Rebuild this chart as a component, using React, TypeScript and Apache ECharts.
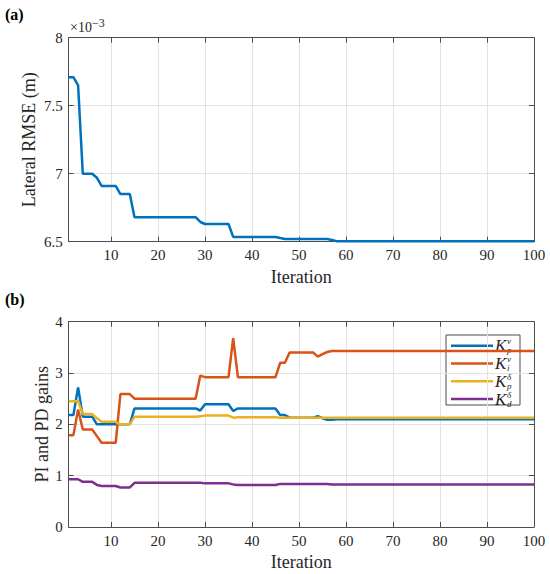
import React, { useEffect, useRef } from "react";
import * as echarts from "echarts";

const iterations = Array.from({ length: 100 }, (_, i) => i + 1);
const xTickValues = [10, 20, 30, 40, 50, 60, 70, 80, 90, 100];

// Lateral RMSE in units of 1e-3 m
const lateralRmse = [
  7.71, 7.71, 7.65, 7.0, 7.0, 7.0, 6.97, 6.91, 6.91, 6.91,
  6.91, 6.85, 6.85, 6.85, 6.68, 6.68, 6.68, 6.68, 6.68, 6.68,
  6.68, 6.68, 6.68, 6.68, 6.68, 6.68, 6.68, 6.68, 6.645, 6.63,
  6.63, 6.63, 6.63, 6.63, 6.63, 6.535, 6.535, 6.535, 6.535, 6.535,
  6.535, 6.535, 6.535, 6.535, 6.535, 6.527, 6.52, 6.52, 6.52, 6.52,
  6.52, 6.52, 6.52, 6.52, 6.52, 6.52, 6.512, 6.504, 6.504, 6.504,
  6.504, 6.504, 6.504, 6.504, 6.504, 6.504, 6.504, 6.504, 6.504, 6.504,
  6.504, 6.504, 6.504, 6.504, 6.504, 6.504, 6.504, 6.504, 6.504, 6.504,
  6.504, 6.504, 6.504, 6.504, 6.504, 6.504, 6.504, 6.504, 6.504, 6.504,
  6.504, 6.504, 6.504, 6.504, 6.504, 6.504, 6.504, 6.504, 6.504, 6.504,
];

const kpV = [
  2.18, 2.18, 2.72, 2.15, 2.15, 2.15, 2.0, 2.0, 2.0, 2.0,
  2.0, 2.0, 2.0, 2.0, 2.31, 2.31, 2.31, 2.31, 2.31, 2.31,
  2.31, 2.31, 2.31, 2.31, 2.31, 2.31, 2.31, 2.31, 2.27, 2.39,
  2.39, 2.39, 2.39, 2.39, 2.39, 2.26, 2.31, 2.31, 2.31, 2.31,
  2.31, 2.31, 2.31, 2.31, 2.31, 2.18, 2.18, 2.13, 2.13, 2.13,
  2.13, 2.13, 2.13, 2.16, 2.12, 2.09, 2.09, 2.1, 2.1, 2.1,
  2.1, 2.1, 2.1, 2.1, 2.1, 2.1, 2.1, 2.1, 2.1, 2.1,
  2.1, 2.1, 2.1, 2.1, 2.1, 2.1, 2.1, 2.1, 2.1, 2.1,
  2.1, 2.1, 2.1, 2.1, 2.1, 2.1, 2.1, 2.1, 2.1, 2.1,
  2.1, 2.1, 2.1, 2.1, 2.1, 2.1, 2.1, 2.1, 2.1, 2.1,
];

const kiV = [
  1.79, 1.79, 2.29, 1.9, 1.9, 1.9, 1.77, 1.64, 1.64, 1.64,
  1.64, 2.59, 2.59, 2.59, 2.5, 2.5, 2.5, 2.5, 2.5, 2.5,
  2.5, 2.5, 2.5, 2.5, 2.5, 2.5, 2.5, 2.5, 2.95, 2.92,
  2.92, 2.92, 2.92, 2.92, 2.92, 3.68, 2.92, 2.92, 2.92, 2.92,
  2.92, 2.92, 2.92, 2.92, 2.92, 3.2, 3.2, 3.4, 3.4, 3.4,
  3.4, 3.4, 3.4, 3.32, 3.37, 3.41, 3.43, 3.43, 3.43, 3.43,
  3.43, 3.43, 3.43, 3.43, 3.43, 3.43, 3.43, 3.43, 3.43, 3.43,
  3.43, 3.43, 3.43, 3.43, 3.43, 3.43, 3.43, 3.43, 3.43, 3.43,
  3.43, 3.43, 3.43, 3.43, 3.43, 3.43, 3.43, 3.43, 3.43, 3.43,
  3.43, 3.43, 3.43, 3.43, 3.43, 3.43, 3.43, 3.43, 3.43, 3.43,
];

const kpDelta = [
  2.45, 2.45, 2.45, 2.2, 2.2, 2.2, 2.12, 2.05, 2.05, 2.05,
  2.05, 2.0, 2.0, 2.0, 2.15, 2.15, 2.15, 2.15, 2.15, 2.15,
  2.15, 2.15, 2.15, 2.15, 2.15, 2.15, 2.15, 2.15, 2.16, 2.17,
  2.17, 2.17, 2.17, 2.17, 2.17, 2.13, 2.14, 2.14, 2.14, 2.14,
  2.14, 2.14, 2.14, 2.14, 2.14, 2.13, 2.13, 2.13, 2.13, 2.13,
  2.13, 2.13, 2.13, 2.13, 2.13, 2.13, 2.13, 2.13, 2.13, 2.13,
  2.13, 2.13, 2.13, 2.13, 2.13, 2.13, 2.13, 2.13, 2.13, 2.13,
  2.13, 2.13, 2.13, 2.13, 2.13, 2.13, 2.13, 2.13, 2.13, 2.13,
  2.13, 2.13, 2.13, 2.13, 2.13, 2.13, 2.13, 2.13, 2.13, 2.13,
  2.13, 2.13, 2.13, 2.13, 2.13, 2.13, 2.13, 2.13, 2.13, 2.13,
];

const kdDelta = [
  0.93, 0.93, 0.93, 0.88, 0.88, 0.88, 0.82, 0.8, 0.8, 0.8,
  0.8, 0.77, 0.77, 0.77, 0.86, 0.86, 0.86, 0.86, 0.86, 0.86,
  0.86, 0.86, 0.86, 0.86, 0.86, 0.86, 0.86, 0.86, 0.86, 0.85,
  0.85, 0.85, 0.85, 0.85, 0.85, 0.83, 0.82, 0.82, 0.82, 0.82,
  0.82, 0.82, 0.82, 0.82, 0.82, 0.84, 0.84, 0.84, 0.84, 0.84,
  0.84, 0.84, 0.84, 0.84, 0.84, 0.84, 0.83, 0.83, 0.83, 0.83,
  0.83, 0.83, 0.83, 0.83, 0.83, 0.83, 0.83, 0.83, 0.83, 0.83,
  0.83, 0.83, 0.83, 0.83, 0.83, 0.83, 0.83, 0.83, 0.83, 0.83,
  0.83, 0.83, 0.83, 0.83, 0.83, 0.83, 0.83, 0.83, 0.83, 0.83,
  0.83, 0.83, 0.83, 0.83, 0.83, 0.83, 0.83, 0.83, 0.83, 0.83,
];

const gainSeries = [
  { name: "Kp_v", data: kpV, color: "#0072BD", sup: "v", sub: "p" },
  { name: "Ki_v", data: kiV, color: "#D95319", sup: "v", sub: "i" },
  { name: "Kp_delta", data: kpDelta, color: "#EDB120", sup: "δ", sub: "p" },
  { name: "Kd_delta", data: kdDelta, color: "#7E2F8E", sup: "δ", sub: "d" },
];

const FONT = "'Liberation Serif', 'DejaVu Serif', serif";
const TEXT = "#262626";
const AXIS = "#4d4d4d";
const GRIDC = "#e3e3e3";

const G0 = { left: 68.7, top: 37.7, width: 465.3, height: 204 };
const G1 = { left: 68.7, top: 321.7, width: 465.3, height: 205.3 };

function xAxes(gridIndex: number) {
  const line = { show: true, onZero: false, lineStyle: { color: AXIS, width: 1 } };
  return [
    {
      gridIndex,
      type: "value",
      min: 1,
      max: 100,
      position: "bottom",
      axisLine: line,
      axisTick: { show: true, inside: true, length: 5, customValues: xTickValues, lineStyle: { color: AXIS } },
      axisLabel: { customValues: xTickValues, color: TEXT, fontSize: 15, fontFamily: FONT, margin: 6 },
      splitLine: { show: true, lineStyle: { color: GRIDC, width: 1 } },
      name: "Iteration",
      nameLocation: "middle",
      nameGap: 26,
      nameMoveOverlap: false,
      nameTextStyle: { color: TEXT, fontSize: 18, fontFamily: FONT },
    },
    {
      gridIndex,
      type: "value",
      min: 1,
      max: 100,
      position: "top",
      axisLine: line,
      axisTick: { show: true, inside: true, length: 5, customValues: xTickValues, lineStyle: { color: AXIS } },
      axisLabel: { show: false },
      splitLine: { show: false },
    },
  ];
}

function yAxes(gridIndex: number, min: number, max: number, interval: number, name: string, nameGap: number) {
  const line = { show: true, onZero: false, lineStyle: { color: AXIS, width: 1 } };
  return [
    {
      gridIndex,
      type: "value",
      min,
      max,
      interval,
      position: "left",
      axisLine: line,
      axisTick: { show: true, inside: true, length: 5, lineStyle: { color: AXIS } },
      axisLabel: { color: TEXT, fontSize: 15, fontFamily: FONT, margin: 6 },
      splitLine: { show: true, lineStyle: { color: GRIDC, width: 1 } },
      name,
      nameLocation: "middle",
      nameGap,
      nameMoveOverlap: false,
      nameTextStyle: { color: TEXT, fontSize: 18, fontFamily: FONT },
    },
    {
      gridIndex,
      type: "value",
      min,
      max,
      interval,
      position: "right",
      axisLine: line,
      axisTick: { show: true, inside: true, length: 5, lineStyle: { color: AXIS } },
      axisLabel: { show: false },
      splitLine: { show: false },
    },
  ];
}

function legendGraphic() {
  const children: any[] = [
    {
      type: "rect",
      shape: { x: 446, y: 335, width: 74, height: 70 },
      style: { fill: "rgba(255,255,255,0.65)", stroke: AXIS, lineWidth: 1 },
    },
  ];
  gainSeries.forEach((s, i) => {
    const y = 345.7 + i * 17.8;
    children.push({
      type: "line",
      shape: { x1: 451, y1: y, x2: 493, y2: y },
      style: { stroke: s.color, lineWidth: 2.5 },
    });
    children.push({
      type: "text",
      x: 495,
      y: y,
      style: { text: "K", fontSize: 17, fontStyle: "italic", fontFamily: FONT, fill: TEXT, align: "left", verticalAlign: "middle" },
    });
    children.push({
      type: "text",
      x: 507,
      y: y - 4.45,
      style: { text: s.sup, fontSize: 9, lineHeight: 9, fontStyle: "italic", fontFamily: FONT, fill: TEXT, align: "left", verticalAlign: "middle" },
    });
    children.push({
      type: "text",
      x: 507,
      y: y + 4.45,
      style: { text: s.sub, fontSize: 9, lineHeight: 9, fontStyle: "italic", fontFamily: FONT, fill: TEXT, align: "left", verticalAlign: "middle" },
    });
  });
  return { type: "group", z: 100, children };
}

function buildOption() {
  return {
    animation: false,
    backgroundColor: "#ffffff",
    textStyle: { fontFamily: FONT },
    grid: [
      { ...G0, outerBoundsMode: "none", containLabel: false },
      { ...G1, outerBoundsMode: "none", containLabel: false },
    ],
    xAxis: [...xAxes(0), ...xAxes(1)],
    yAxis: [
      ...yAxes(0, 6.5, 8, 0.5, "Lateral RMSE (m)", 31),
      ...yAxes(1, 0, 4, 1, "PI and PD gains", 18),
    ],
    series: [
      {
        name: "Lateral RMSE",
        type: "line",
        xAxisIndex: 0,
        yAxisIndex: 0,
        symbol: "none",
        showSymbol: false,
        lineStyle: { color: "#0072BD", width: 2.5 },
        itemStyle: { color: "#0072BD" },
        data: iterations.map((it, i) => [it, lateralRmse[i]]),
      },
      ...gainSeries.map((s) => ({
        name: s.name,
        type: "line",
        xAxisIndex: 2,
        yAxisIndex: 2,
        symbol: "none",
        showSymbol: false,
        lineStyle: { color: s.color, width: 2.5 },
        itemStyle: { color: s.color },
        data: iterations.map((it, i) => [it, s.data[i]]),
      })),
    ],
    graphic: [
      {
        type: "text",
        x: 5,
        y: 14.5,
        style: { text: "(a)", fontSize: 16, fontWeight: "bold", fontFamily: FONT, fill: "#000", align: "left", verticalAlign: "middle" },
      },
      {
        type: "text",
        x: 5,
        y: 299,
        style: { text: "(b)", fontSize: 16, fontWeight: "bold", fontFamily: FONT, fill: "#000", align: "left", verticalAlign: "middle" },
      },
      {
        type: "text",
        x: 70,
        y: 27.5,
        style: { text: "×10", fontSize: 14, fontFamily: FONT, fill: TEXT, align: "left", verticalAlign: "middle" },
      },
      {
        type: "text",
        x: 92,
        y: 23,
        style: { text: "−3", fontSize: 12, fontFamily: FONT, fill: TEXT, align: "left", verticalAlign: "middle" },
      },
      legendGraphic(),
    ],
  };
}

export default function App() {
  const ref = useRef<HTMLDivElement>(null);
  useEffect(() => {
    document.body.style.margin = "0";
    if (!ref.current) return;
    const chart = echarts.init(ref.current, null, { renderer: "svg" });
    chart.setOption(buildOption() as any);
    return () => {
      chart.dispose();
    };
  }, []);
  return <div ref={ref} style={{ width: 550, height: 574 }} />;
}
